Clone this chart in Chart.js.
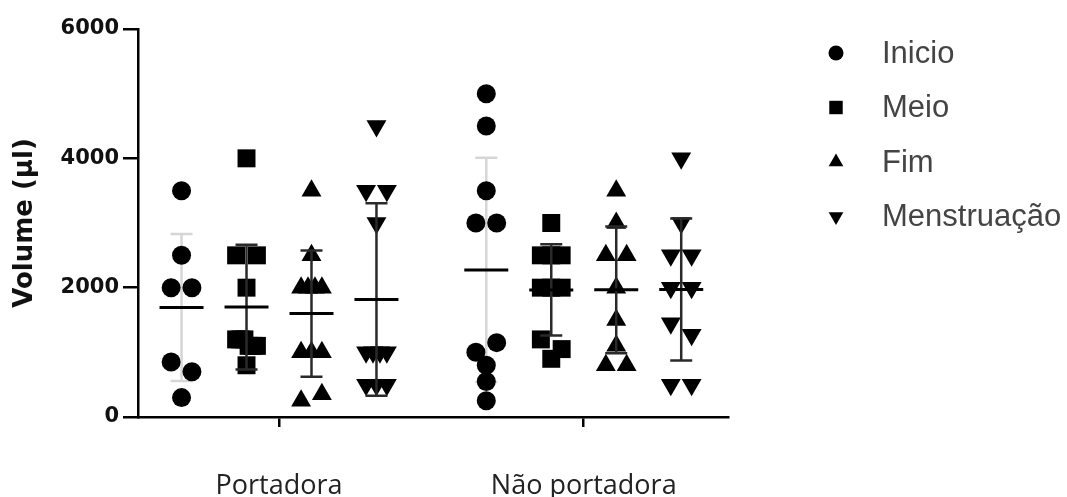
<!DOCTYPE html>
<html><head><meta charset="utf-8">
<script src="https://cdn.jsdelivr.net/npm/chart.js@4.4.1/dist/chart.umd.min.js"></script>
<style>html,body{margin:0;padding:0;background:#fff}#wrap{width:1067px;height:497px;position:relative}</style>
</head><body><div id="wrap"><canvas id="c" width="1067" height="497"></canvas></div>
<script>
// ---- data ----
const categories = ['Portadora', 'Não portadora'];
const seriesNames = ['Inicio', 'Meio', 'Fim', 'Menstruação'];
const yTickValues = [0, 2000, 4000, 6000];
const inicioPortadora = [3500, 2500, 2000, 2000, 850, 700, 300];
const inicioNaoPortadora = [5000, 4500, 3500, 3000, 3000, 1000, 1150, 800, 550, 250];
const meioPortadora = [4000, 2500, 2500, 2000, 1200, 1200, 1200, 1100, 1100, 1100, 800];
const meioNaoPortadora = [3000, 2500, 2500, 2500, 2000, 2000, 2000, 1200, 900, 1050];
const fimPortadora = [3500, 2500, 2000, 2000, 2000, 2000, 1000, 1000, 1000, 250, 350];
const fimNaoPortadora = [3500, 3000, 2500, 2500, 2000, 1500, 1100, 800, 800];
const menstruacaoPortadora = [4500, 3500, 3500, 3000, 1000, 1000, 1000, 1000, 500, 500, 500];
const menstruacaoNaoPortadora = [4000, 3000, 2500, 2500, 2000, 2000, 1450, 1270, 500, 500];

const valuesBySeries = [
  [inicioPortadora, inicioNaoPortadora],
  [meioPortadora, meioNaoPortadora],
  [fimPortadora, fimNaoPortadora],
  [menstruacaoPortadora, menstruacaoNaoPortadora]
];

// ---- layout / style ----
const X_MAX = 9.08;
const GROUP_X = [2.17, 6.86];
const SERIES_OFFSET = [-1.5, -0.5, 0.5, 1.5];
const JITTER = 0.16;
const CLUSTER_GAP = 200;
const styles = [
  {pointStyle: 'circle', radius: 9.5, rotation: 0, whisker: '#d6d6d6', legendR: 7.5},
  {pointStyle: 'rect', radius: 12.7, rotation: 0, whisker: '#2a2a2a', legendR: 9.5},
  {pointStyle: 'triangle', radius: 11.5, rotation: 0, whisker: '#2a2a2a', legendR: 8.5},
  {pointStyle: 'triangle', radius: 11.5, rotation: 180, whisker: '#2a2a2a', legendR: 8.5}
];

function spreadOffsets(vals) {
  const order = vals.map((v, i) => i).sort((a, b) => vals[b] - vals[a] || a - b);
  const clusters = [];
  let cur = null, last = null;
  order.forEach(i => {
    if (cur && vals[last] - vals[i] < CLUSTER_GAP) cur.push(i);
    else { cur = [i]; clusters.push(cur); }
    last = i;
  });
  const off = new Array(vals.length).fill(0);
  clusters.forEach(c => {
    c.sort((a, b) => a - b);
    const n = c.length;
    c.forEach((idx, k) => { off[idx] = n === 1 ? 0 : -JITTER + 2 * JITTER * k / (n - 1); });
  });
  return off;
}

function stats(vals) {
  const n = vals.length;
  const mean = vals.reduce((a, b) => a + b, 0) / n;
  const sd = Math.sqrt(vals.reduce((a, v) => a + (v - mean) * (v - mean), 0) / (n - 1));
  return {mean, sd};
}

const datasets = seriesNames.map((name, s) => {
  const data = [];
  valuesBySeries[s].forEach((vals, g) => {
    const off = spreadOffsets(vals);
    vals.forEach((v, i) => data.push({x: GROUP_X[g] + SERIES_OFFSET[s] + off[i], y: v}));
  });
  const st = styles[s];
  return {
    label: name, data,
    pointStyle: st.pointStyle, rotation: st.rotation,
    pointRadius: st.radius, pointHoverRadius: st.radius,
    backgroundColor: '#000', borderColor: '#000', borderWidth: 0, pointBorderWidth: 0
  };
});

function drawStats(chart, behind) {
  const {ctx, scales: {x, y}} = chart;
  valuesBySeries.forEach((groups, s) => {
    const light = s === 0;
    groups.forEach((vals, g) => {
      const {mean, sd} = stats(vals);
      const cx = x.getPixelForValue(GROUP_X[g] + SERIES_OFFSET[s]);
      const yt = y.getPixelForValue(mean + sd);
      const yb = y.getPixelForValue(Math.max(0, mean - sd));
      const ym = y.getPixelForValue(mean);
      ctx.save();
      if (behind === light) {
        ctx.strokeStyle = styles[s].whisker;
        ctx.lineWidth = 2.5;
        ctx.beginPath();
        ctx.moveTo(cx, yt); ctx.lineTo(cx, yb);
        ctx.moveTo(cx - 11, yt); ctx.lineTo(cx + 11, yt);
        ctx.moveTo(cx - 11, yb); ctx.lineTo(cx + 11, yb);
        ctx.stroke();
      }
      if (!behind) {
        ctx.strokeStyle = '#000';
        ctx.lineWidth = 3;
        ctx.beginPath();
        ctx.moveTo(cx - 22, ym); ctx.lineTo(cx + 22, ym);
        ctx.stroke();
      }
      ctx.restore();
    });
  });
}

const statsPlugin = {
  id: 'meanSd',
  beforeDatasetsDraw(chart) { drawStats(chart, true); },
  afterDatasetsDraw(chart) { drawStats(chart, false); }
};

const legendPlugin = {
  id: 'sideLegend',
  afterDraw(chart) {
    const ctx = chart.ctx;
    ctx.save();
    seriesNames.forEach((name, i) => {
      const yy = 53 + i * 54.5;
      const st = styles[i];
      ctx.fillStyle = '#000';
      ctx.strokeStyle = '#000';
      Chart.helpers.drawPoint(ctx, {pointStyle: st.pointStyle, rotation: st.rotation, radius: st.legendR, borderWidth: 0}, 836, yy);
      ctx.font = '31px "Liberation Sans", Arial, sans-serif';
      ctx.fillStyle = '#444';
      ctx.textBaseline = 'middle';
      ctx.textAlign = 'left';
      ctx.fillText(name, 882, yy + 1);
    });
    ctx.restore();
  }
};

new Chart(document.getElementById('c'), {
  type: 'scatter',
  data: {datasets},
  plugins: [statsPlugin, legendPlugin],
  options: {
    responsive: false,
    devicePixelRatio: 1,
    animation: false,
    layout: {padding: {left: 0, top: 29, right: 339, bottom: 0}},
    plugins: {legend: {display: false}, tooltip: {enabled: false}},
    scales: {
      x: {
        type: 'linear', min: 0, max: X_MAX,
        afterBuildTicks(axis) { axis.ticks = GROUP_X.map(v => ({value: v})); },
        afterFit(scale) { scale.height = 80; },
        grid: {drawOnChartArea: false, drawTicks: true, tickLength: 10, color: '#000', lineWidth: 2.5},
        border: {display: true, color: '#000', width: 2.5},
        ticks: {
          autoSkip: false, maxRotation: 0, padding: 43,
          callback: (v, i) => categories[i],
          font: {family: '"Open Sans", sans-serif', size: 27},
          color: '#222'
        }
      },
      y: {
        min: 0, max: 6000,
        afterBuildTicks(axis) { axis.ticks = yTickValues.map(v => ({value: v})); },
        afterFit(scale) { scale.width = 138; },
        grid: {drawOnChartArea: false, drawTicks: true, tickLength: 15, color: '#000', lineWidth: 2.5},
        border: {display: true, color: '#000', width: 2.5},
        ticks: {
          padding: 4,
          callback: (v) => String(v),
          font: {family: '"DejaVu Sans", sans-serif', size: 21, weight: 'bold'},
          color: '#111'
        },
        title: {
          display: true, text: 'Volume (µl)',
          font: {family: '"DejaVu Sans", sans-serif', size: 26, weight: 'bold'},
          color: '#111', padding: {top: 10, bottom: 0}
        }
      }
    }
  }
});
</script>
</body></html>
